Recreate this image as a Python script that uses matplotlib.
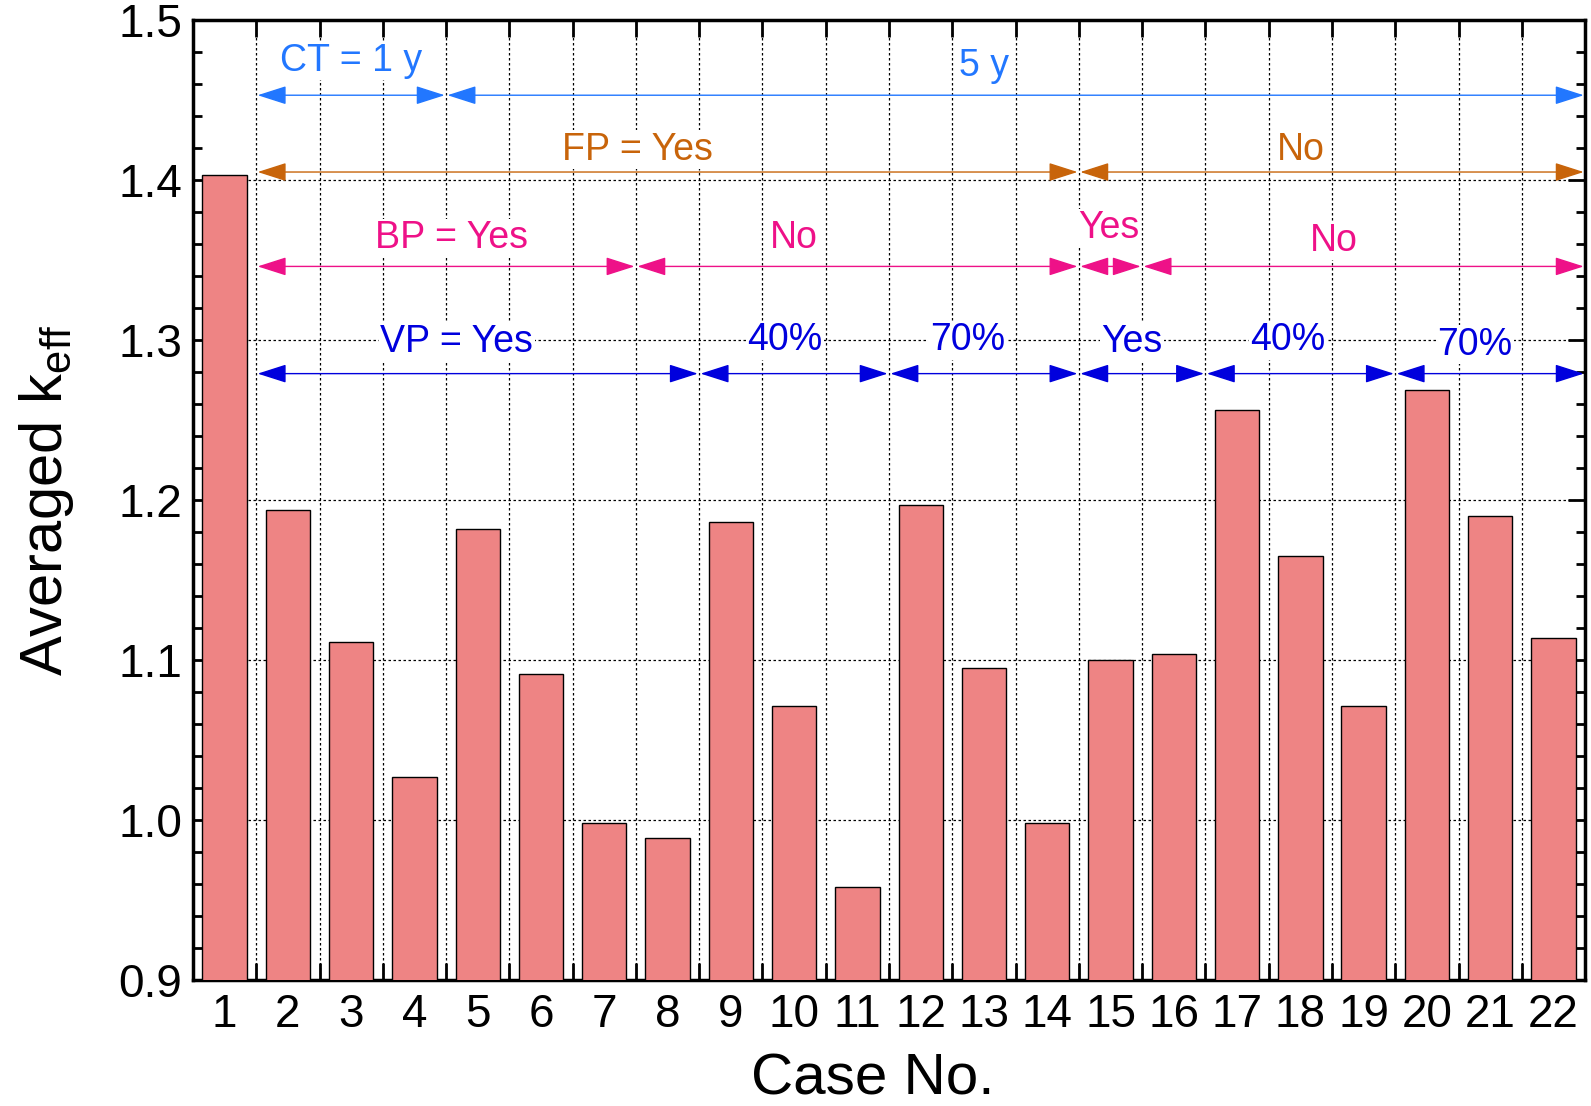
#!/usr/bin/env python
# -*- coding: utf-8 -*-

"""Averaged k_eff per case, with the design options of each case marked above the bars."""

import matplotlib.pyplot as plt
from matplotlib.ticker import FixedLocator, MultipleLocator

plt.rcParams["font.family"] = ["Liberation Sans", "DejaVu Sans"]
plt.rcParams["mathtext.fontset"] = "custom"
plt.rcParams["mathtext.rm"] = "Liberation Sans"

barcolor = "#EE8484"
ctblue = "#2277FF"
fporange = "#C8640A"
bppink = "#EE1188"
vpblue = "#0000DD"

cases = list(range(1, 23))
keff = [1.403, 1.194, 1.111, 1.027, 1.182, 1.091, 0.998, 0.989, 1.186, 1.071, 0.958,
        1.197, 1.095, 0.998, 1.100, 1.104, 1.256, 1.165, 1.071, 1.269, 1.190, 1.114]

# option groups: boundaries between groups of cases, and the label of each group
ct_edges = [1.5, 4.5, 22.5]
ct_labels = ["CT = 1 y", "5 y"]
fp_edges = [1.5, 14.5, 22.5]
fp_labels = ["FP = Yes", "No"]
bp_edges = [1.5, 7.5, 14.5, 15.5, 22.5]
bp_labels = ["BP = Yes", "No", "Yes", "No"]
vp_edges = [1.5, 8.5, 11.5, 14.5, 16.5, 19.5, 22.5]
vp_labels = ["VP = Yes", "40%", "70%", "Yes", "40%", "70%"]

fig = plt.figure(figsize=(15.91, 11.06), dpi=100)
ax = fig.add_axes([0.1213, 0.1139, 0.875, 0.868])

ax.set_xlim(0.5, 22.5)
ax.set_ylim(0.9, 1.5)

ax.bar(cases, keff, width=0.7, color=barcolor, edgecolor="black", linewidth=1.0, zorder=3)

ax.xaxis.set_major_locator(FixedLocator(cases))
ax.xaxis.set_minor_locator(FixedLocator([c + 0.5 for c in cases[:-1]]))
ax.yaxis.set_major_locator(MultipleLocator(0.1))
ax.yaxis.set_minor_locator(MultipleLocator(0.02))
ax.yaxis.set_major_formatter(plt.FormatStrFormatter("%.1f"))

ax.tick_params(axis="x", which="major", length=0, pad=9, labelsize=33)
ax.tick_params(axis="x", which="minor", direction="in", length=12, width=2,
               top=True, bottom=True)
ax.tick_params(axis="y", which="major", direction="in", length=12, width=2,
               left=True, right=True, labelsize=33, pad=8)
ax.tick_params(axis="y", which="minor", direction="in", length=6.5, width=2,
               left=True, right=True)

ax.grid(axis="x", which="minor", color="black", linestyle=(0, (2, 2)), linewidth=0.9, zorder=1)
ax.grid(axis="y", which="major", color="black", linestyle=(0, (2, 2)), linewidth=0.9, zorder=1)
ax.set_axisbelow(True)

for s in ax.spines.values():
    s.set_linewidth(2.5)

ax.set_xlabel("Case No.", fontsize=42, labelpad=6)
ax.xaxis.set_label_coords(0.488, -0.075)
ax.set_ylabel(r"Averaged k$_{\mathrm{eff}}$", fontsize=43, labelpad=30)


def option_row(edges, labels, y, text_xy, color):
    for x0, x1 in zip(edges[:-1], edges[1:]):
        ax.annotate("", xy=(x1, y), xytext=(x0, y),
                    arrowprops=dict(arrowstyle="<|-|>,head_length=1.0,head_width=0.32",
                                    mutation_scale=18, color=color, linewidth=1.0,
                                    shrinkA=1, shrinkB=1),
                    zorder=4)
    for (tx, ty), label in zip(text_xy, labels):
        ax.text(tx, ty, label, color=color, fontsize=27, ha="center", va="center", zorder=5,
                bbox=dict(facecolor="white", edgecolor="none", pad=1))


option_row(ct_edges, ct_labels, 1.453, [(3.0, 1.4746), (13.0, 1.4715)], ctblue)
option_row(fp_edges, fp_labels, 1.405, [(7.53, 1.419), (18.0, 1.419)], fporange)
option_row(bp_edges, bp_labels, 1.346,
           [(4.59, 1.3636), (10.0, 1.3636), (14.97, 1.370), (18.53, 1.362)], bppink)
option_row(vp_edges, vp_labels, 1.279,
           [(4.67, 1.299), (9.85, 1.300), (12.74, 1.300), (15.34, 1.299),
            (17.8, 1.300), (20.76, 1.297)], vpblue)

fig.savefig("out.png", dpi=100)
